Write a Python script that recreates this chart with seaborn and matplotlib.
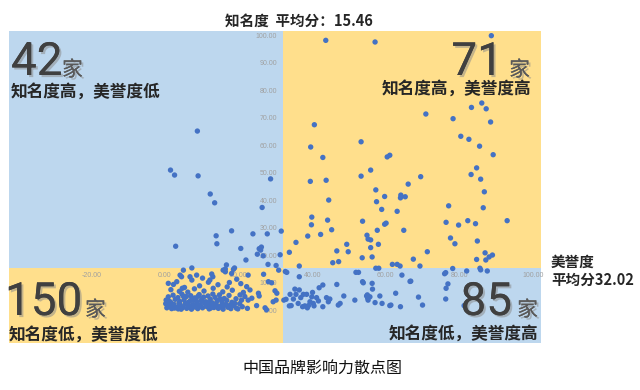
import matplotlib
matplotlib.use("Agg")
import matplotlib.pyplot as plt
import matplotlib.patheffects as pe
from matplotlib.patches import Rectangle
from matplotlib.ticker import FormatStrFormatter
import pandas as pd
import seaborn as sns

# ---------------- data ----------------
x_mean = 32.02   # 美誉度 平均分
y_mean = 15.46   # 知名度 平均分

# top-right quadrant (知名度高，美誉度高)
tr_x = [43.7, 57.1, 88.7, 83.3, 86.1, 87.3, 70.9, 78.3, 88.5, 40.6, 39.6, 53.3, 42.9, 60.4, 61.1,
        80.4, 82.6, 85.5, 89.2, 55.9, 53.3, 69.5, 39.5, 43.8, 84.7, 83.2, 85.8, 66.1, 57.3, 86.8,
        44.5, 59.7, 64.1, 64.0, 65.3, 57.5, 77.1, 86.5, 39.9, 58.9, 63.1, 39.8, 44.2, 53.7, 59.7,
        60.1, 76.4, 79.8, 82.3, 84.4, 93.0, 45.3, 57.7, 64.9, 38.8, 42.3, 54.9, 55.2, 55.9, 77.6,
        35.6, 33.8, 49.4, 46.7, 49.8, 45.6, 47.2, 53.6, 55.9, 58.0, 56.3, 61.8, 63.1, 63.9, 67.5,
        71.3, 78.8, 84.9, 84.7, 87.0, 87.2, 88.1, 89.0, 69.3, 36.5]
tr_y = [98.1, 97.5, 99.8, 73.7, 75.3, 73.2, 71.3, 69.6, 68.4, 67.4, 59.3, 61.2, 55.5, 55.7, 56.3,
        63.2, 62.1, 59.6, 56.5, 50.9, 48.7, 48.5, 46.8, 47.2, 51.7, 49.3, 47.6, 45.8, 43.7, 43.0,
        40.0, 41.3, 41.8, 40.8, 41.2, 39.4, 37.9, 37.2, 33.8, 36.6, 35.9, 31.0, 32.7, 32.3, 31.2,
        31.6, 31.9, 30.9, 32.5, 31.4, 32.5, 29.2, 29.0, 29.0, 26.9, 27.5, 27.2, 25.8, 25.5, 26.2,
        24.6, 21.0, 23.9, 21.5, 21.2, 17.2, 17.6, 19.0, 22.7, 23.9, 19.3, 16.6, 16.6, 16.0, 18.5,
        21.2, 24.1, 25.1, 18.4, 20.8, 18.2, 19.3, 20.0, 16.0, 16.0]

# top-left quadrant (知名度高，美誉度低)
tl_x = [8.8, 1.5, 2.6, 9.0, 28.7, 12.3, 13.5, 26.4, 18.1, 13.9, 14.1, 2.9, 23.9, 27.8, 31.6,
        20.6, 25.6, 26.2, 26.0, 25.1, 31.3, 22.0, 28.0, 16.7, 26.7, 30.2]
tl_y = [65.1, 50.9, 49.1, 48.8, 47.7, 42.2, 39.0, 37.3, 28.8, 27.0, 24.1, 23.2, 27.7, 27.7, 28.7,
        22.4, 22.3, 22.9, 21.8, 20.3, 20.1, 18.2, 16.6, 16.4, 19.7, 16.2]

# bottom-left quadrant (知名度低，美誉度低)
bl_x = [0.5, 1.2, 1.8, 2.4, 3.1, 3.6, 4.2, 4.8, 5.5, 5.9, 6.6, 7.2, 7.7, 8.3, 8.9, 9.6, 10.2,
        10.8, 11.3, 12.0, 12.6, 13.3, 13.9, 14.5, 15.2, 15.8, 16.5, 17.1, 17.9, 18.6, 19.4, 20.3,
        21.0, 22.4, 0.2, 2.0, 6.1, 9.1, 11.9, 14.9, 3.8, 7.5, 16.0, 19.0, 24.9, 27.2, 27.6,
        0.3, 0.9, 1.5, 2.2, 2.8, 3.5, 4.0, 4.6, 5.2, 5.8, 6.4, 7.0, 7.6, 8.1, 8.7, 9.3, 9.9,
        10.5, 11.1, 11.7, 12.3, 12.9, 13.6, 14.2, 14.8, 15.5, 16.1, 16.8, 17.4, 18.2, 19.3, 20.4,
        20.8, 21.7, 22.6, 23.6, 25.6, 29.4, 30.2, 1.1, 5.0, 8.5, 13.0,
        0.9, 2.3, 3.2, 1.6, 3.9, 5.3, 6.2, 7.3, 8.0, 9.4, 10.6, 11.8, 12.2, 13.1, 14.4, 15.7,
        16.9, 18.3, 19.5, 20.6, 22.2, 23.1, 25.4, 28.1, 29.0, 29.9, 30.4, 4.7, 17.5, 21.3,
        5.0, 7.3, 4.1, 4.5, 6.8, 8.6, 12.7, 13.0, 15.8, 16.4, 18.1, 18.6, 18.9, 22.6, 30.9,
        10.2, 26.8, 16.4,
        0.8, 4.4, 10.0, 12.4, 15.0, 17.7, 19.8, 2.6, 9.0, 14.0, 6.9]
bl_y = [0.8, 1.5, 0.5, 2.1, 1.0, 0.4, 1.7, 0.9, 2.3, 0.6, 1.4, 0.3, 2.0, 1.1, 0.5, 1.8, 0.8,
        2.4, 1.3, 0.4, 1.9, 0.9, 2.2, 0.6, 1.5, 0.3, 2.0, 1.0, 0.5, 1.7, 0.7, 2.3,
        1.2, 0.6, 2.3, 1.2, 2.2, 1.3, 2.4, 1.1, 2.5, 0.9, 1.6, 2.4, 1.6, 0.8, 0.1,
        3.6, 4.8, 2.9, 5.4, 3.9, 4.5, 3.1, 5.8, 3.7, 4.9, 2.8, 5.2, 3.8, 4.4, 2.7, 5.6, 3.3,
        4.7, 3.0, 5.1, 3.9, 2.6, 4.6, 3.4, 5.5, 2.9, 4.2, 3.5, 5.3, 2.8, 4.1, 5.5,
        3.6, 4.9, 3.6, 4.3, 5.1, 3.0, 3.6, 3.2, 5.0, 3.5, 5.8,
        9.7, 9.3, 10.3, 7.4, 6.8, 8.2, 6.5, 10.9, 7.7, 8.8, 6.9, 10.1, 10.9, 7.9, 9.2, 6.6,
        8.4, 7.2, 11.2, 9.6, 8.5, 7.3, 6.1, 10.3, 9.9, 7.0, 6.1, 7.9, 10.0, 6.4,
        14.5, 15.3, 12.7, 12.1, 12.1, 12.7, 13.1, 12.1, 14.5, 13.9, 13.3, 14.8, 15.3, 12.7, 14.5,
        11.6, 13.0, 14.9,
        2.0, 0.3, 3.9, 0.7, 4.0, 1.8, 0.4, 0.7, 5.0, 1.5, 3.4]

# bottom-right quadrant (知名度低，美誉度高)
br_x = [33.1, 32.7, 36.5, 51.9, 52.6, 57.3, 58.1, 64.4, 66.8, 76.3, 78.2, 82.0, 85.6, 87.6,
        76.9, 76.4, 76.3, 81.3, 32.3, 32.9, 34.0, 35.3, 36.5, 34.9, 35.6, 36.9, 37.6, 38.5, 39.9,
        33.8, 34.3, 36.2, 37.4, 38.0, 38.7, 39.0, 39.4, 40.3, 40.5, 41.2, 41.7, 42.9, 43.9, 44.4,
        44.8, 41.9, 42.9, 40.1, 46.7, 47.1, 48.6, 51.6, 54.8, 55.1, 53.7, 56.3, 56.4, 58.4, 59.0,
        61.1, 64.0, 62.7, 68.9, 70.0, 47.6, 55.0, 55.7, 57.1, 55.2, 61.4, 53.9, 66.6, 76.0, 85.8]
br_y = [13.7, 14.0, 12.1, 13.7, 13.7, 15.2, 15.2, 12.7, 10.5, 13.6, 15.1, 14.2, 15.2, 14.2,
        9.5, 7.9, 4.0, 1.6, 3.6, 3.9, 5.7, 7.6, 7.3, 4.0, 5.7, 4.5, 5.7, 5.7, 4.8,
        1.5, 1.6, 2.4, 1.2, 1.5, 0.8, 1.6, 3.0, 2.4, 1.5, 4.5, 3.3, 1.2, 4.5, 3.0,
        4.0, 8.1, 9.1, 6.4, 9.3, 1.8, 5.1, 3.6, 5.1, 4.3, 10.3, 9.7, 7.6, 5.1, 2.4,
        1.6, 1.2, 6.1, 4.7, 1.8, 2.4, 5.5, 4.8, 2.7, 3.6, 1.8, 9.9, 10.4, 13.2, 14.6]

x_ticks = [-20, 0, 20, 40, 60, 80, 100]
y_ticks = [0, 10, 20, 30, 40, 50, 60, 70, 80, 90, 100]

quad_counts = [42, 71, 150, 85]
quad_labels = ["知名度高，美誉度低", "知名度高，美誉度高", "知名度低，美誉度低", "知名度低，美誉度高"]
top_title = "知名度  平均分：15.46"
right_title = "美誉度\n平均分32.02"
caption = "中国品牌影响力散点图"

# ---------------- figure ----------------
sns.set_theme(style="white")
plt.rcParams["font.family"] = ["Noto Sans CJK SC", "DejaVu Sans"]

W, H = 640, 390
fig = plt.figure(figsize=(6.4, 3.9), dpi=100)
ax = fig.add_axes([9 / W, 1 - 343 / H, 532 / W, 312 / H])

xlim = (-42.4, 102.2)
ylim = (-12.0, 101.5)
ax.set_xlim(*xlim)
ax.set_ylim(*ylim)

blue = "#BDD7EE"
yellow = "#FFDF8C"
ax.add_patch(Rectangle((xlim[0], y_mean), x_mean - xlim[0], ylim[1] - y_mean, color=blue, lw=0, zorder=0))
ax.add_patch(Rectangle((x_mean, y_mean), xlim[1] - x_mean, ylim[1] - y_mean, color=yellow, lw=0, zorder=0))
ax.add_patch(Rectangle((xlim[0], ylim[0]), x_mean - xlim[0], y_mean - ylim[0], color=yellow, lw=0, zorder=0))
ax.add_patch(Rectangle((x_mean, ylim[0]), xlim[1] - x_mean, y_mean - ylim[0], color=blue, lw=0, zorder=0))

df = pd.DataFrame({
    "美誉度": tr_x + tl_x + bl_x + br_x,
    "知名度": tr_y + tl_y + bl_y + br_y,
})
sns.scatterplot(data=df, x="美誉度", y="知名度", ax=ax, color="#4472C4",
                s=15, edgecolor="none", linewidth=0, zorder=3, legend=False)

ax.set_xlabel("")
ax.set_ylabel("")
ax.set_xticks(x_ticks)
ax.set_yticks(y_ticks)
ax.xaxis.set_major_formatter(FormatStrFormatter("%.2f"))
ax.yaxis.set_major_formatter(FormatStrFormatter("%.2f"))
ax.spines["left"].set_position(("data", x_mean))
ax.spines["bottom"].set_position(("data", y_mean))
for s in ["left", "bottom", "top", "right"]:
    ax.spines[s].set_color("none")
ax.tick_params(axis="both", length=0, labelsize=5, labelcolor="#A0A0A0")
ax.tick_params(axis="x", pad=3)
ax.tick_params(axis="y", pad=4)
for lab in ax.get_xticklabels() + ax.get_yticklabels():
    lab.set_family("Liberation Sans")
ax.grid(False)
ax.set_facecolor("white")


def fx(px):
    return px / W


def fy(py):
    return 1 - py / H


shadow = [pe.withSimplePatchShadow(offset=(1.5, -1.5), shadow_rgbFace="#888888", alpha=0.5), pe.Normal()]
num_kw = dict(fontsize=33, color="#404040", family=["Roboto", "DejaVu Sans"], va="baseline",
              path_effects=shadow)
jia_kw = dict(fontsize=15, color="#595959", va="baseline", path_effects=shadow)
lab_kw = dict(fontsize=12, fontweight="bold", color="#262626", va="bottom")

# top-left
fig.text(fx(11), fy(75), str(quad_counts[0]), ha="left", **num_kw)
fig.text(fx(62), fy(76), "家", ha="left", **jia_kw)
fig.text(fx(11), fy(101), quad_labels[0], ha="left", **lab_kw)
# top-right
fig.text(fx(503), fy(75), str(quad_counts[1]), ha="right", **num_kw)
fig.text(fx(530), fy(76), "家", ha="right", **jia_kw)
fig.text(fx(531), fy(98), quad_labels[1], ha="right", **lab_kw)
# bottom-left
fig.text(fx(5), fy(315), str(quad_counts[2]), ha="left", **num_kw)
fig.text(fx(85), fy(316), "家", ha="left", **jia_kw)
fig.text(fx(9), fy(344), quad_labels[2], ha="left", **lab_kw)
# bottom-right
fig.text(fx(512), fy(315), str(quad_counts[3]), ha="right", **num_kw)
fig.text(fx(538), fy(316), "家", ha="right", **jia_kw)
fig.text(fx(538), fy(343), quad_labels[3], ha="right", **lab_kw)

fig.text(fx(299), fy(21), top_title, ha="center", va="center", fontsize=10.5,
         fontweight="bold", color="#262626")
fig.text(fx(551), fy(254), right_title, ha="left", va="top", fontsize=10.5,
         fontweight="bold", color="#262626", linespacing=1.15)
fig.text(fx(322), fy(368), caption, ha="center", va="center", fontsize=11.5, color="#111111")

fig.savefig("out.png", dpi=100, facecolor="white")
